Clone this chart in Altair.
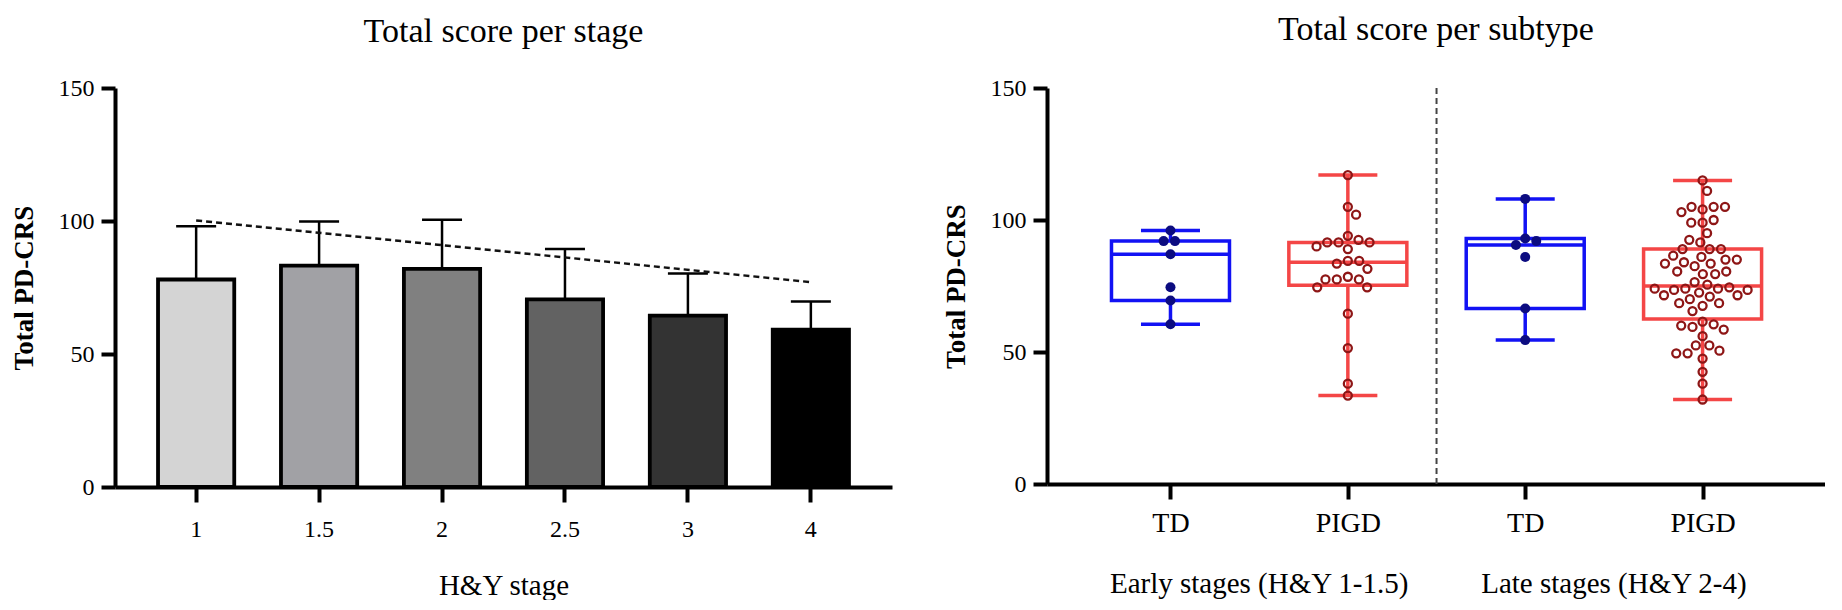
import json
import altair as alt
import pandas as pd
import numpy as np

FONT = "Liberation Serif"

# ---------------- Left panel data ----------------
left_title = "Total score per stage"
stages = ["1", "1.5", "2", "2.5", "3", "4"]
stage_means = [78.0, 83.2, 82.0, 70.5, 64.4, 59.2]
stage_sd = [20.0, 16.6, 18.5, 19.0, 15.9, 10.5]
stage_fill = ["#d4d4d4", "#a1a1a5", "#808080", "#626262", "#333333", "#000000"]
trend_stages = ["1", "4"]
trend_values = [100.2, 77.0]

# ---------------- Right panel data ----------------
right_title = "Total score per subtype"
group_labels = ["TD", "PIGD", "TD", "PIGD"]
group_pos = [1, 2, 3, 4]
stage_groups = ["Early stages (H&Y 1-1.5)", "Late stages (H&Y 2-4)"]
stage_group_pos = [1.5, 3.5]
divider_pos = [2.5]

td_early = [96, 92, 92, 87, 74.5, 69.5, 60.5]
pigd_early = [117, 105, 102, 94, 92.5, 91.5, 91.5, 91.5, 90, 89, 84.5, 84.5,
              83.5, 81.5, 78.5, 77.5, 77.5, 77.5, 74.5, 74.5, 64.5, 51.5, 38, 33.5]
td_late = [108, 93, 92, 90.5, 86, 66.5, 54.5]
pigd_late = [115, 111, 104, 105, 105, 105, 103, 99, 100, 99,
             95, 91.5, 92.5, 89, 89, 89, 86, 83.5, 82.5, 85,
             84, 86.5, 85, 83.5, 79.5, 79.5, 80.5, 80.5, 76.5, 75.5,
             74, 74, 74.5, 72.5, 73.5, 71, 70, 71.5, 71.5, 68.5,
             73.5, 74, 68.5, 67.5, 65.5, 61.5, 60.5, 59.5, 60, 58.5,
             56, 52.5, 52.5, 50.5, 49.5, 49.5, 47.5, 42.5, 38, 32]

series = [("TD", 1, td_early), ("PIGD", 2, pigd_early),
          ("TD", 3, td_late), ("PIGD", 4, pigd_late)]

box_colors = {"TD": "#1212f4", "PIGD": "#f44646"}

# ---------------- layout sizes ----------------
LW, LH = 777, 399
RW, RH = 778, 396
RX_DOMAIN = [0.332, 4.662]
px_x = RW / (RX_DOMAIN[1] - RX_DOMAIN[0])
px_y = RH / 150.0


def beeswarm(values, d):
    placed, offs = [], []
    for v in values:
        y = v * px_y
        cands = [0.0]
        for xj, yj in placed:
            dy = abs(y - yj)
            if dy < d:
                dx = (d * d - dy * dy) ** 0.5
                cands += [xj + dx, xj - dx]
        cands.sort(key=abs)
        chosen = 0.0
        for c in cands:
            if all((c - xj) ** 2 + (y - yj) ** 2 >= d * d - 1e-6 for xj, yj in placed):
                chosen = c
                break
        placed.append((chosen, y))
        offs.append(chosen)
    return offs


pt_rows, box_rows = [], []
for sub, pos, vals in series:
    offs = beeswarm(vals, 11.5)
    for v, o in zip(vals, offs):
        pt_rows.append({"subtype": sub, "pos": pos + o / px_x, "value": v})
    arr = np.array(vals, dtype=float)
    q1, med, q3 = np.percentile(arr, [25, 50, 75], method="weibull")
    box_rows.append({"subtype": sub, "pos": pos, "lo": arr.min(), "q1": q1,
                     "med": med, "q3": q3, "hi": arr.max()})
pts = pd.DataFrame(pt_rows)
boxes = pd.DataFrame(box_rows)

color_scale = alt.Scale(domain=list(box_colors), range=list(box_colors.values()))

# ---------------- Left chart ----------------
bar_df = pd.DataFrame({"stage": stages, "mean": stage_means, "sd": stage_sd})
bar_df["upper"] = bar_df["mean"] + bar_df["sd"]
trend_df = pd.DataFrame({"stage": trend_stages, "value": trend_values})

lx = alt.X("stage:N", sort=stages,
           scale=alt.Scale(paddingInner=0.38, paddingOuter=0.35),
           axis=alt.Axis(title="H&Y stage", labelAngle=0, tickSize=15,
                         labelPadding=15, titlePadding=30, titleFontSize=29,
                         titleFontWeight="normal", labelFontSize=24))
y_axis = alt.Axis(title="Total PD-CRS", values=[0, 50, 100, 150], tickSize=14,
                  labelPadding=7, titlePadding=20, titleFontSize=27,
                  titleFontWeight="bold", labelFontSize=24)
ly_scale = alt.Scale(domain=[0, 150], nice=False)

bars = alt.Chart(bar_df).mark_bar(stroke="black", strokeWidth=3.8).encode(
    x=lx,
    y=alt.Y("mean:Q", scale=ly_scale, axis=y_axis),
    fill=alt.Fill("stage:N", scale=alt.Scale(domain=stages, range=stage_fill), legend=None),
)
err = alt.Chart(bar_df).mark_rule(color="black", strokeWidth=2.5).encode(
    x=alt.X("stage:N", sort=stages), y="mean:Q", y2="upper:Q")
caps = alt.Chart(bar_df).mark_tick(color="black", size=40, thickness=2.5,
                                   orient="horizontal", opacity=1).encode(
    x=alt.X("stage:N", sort=stages), y="upper:Q")
trend = alt.Chart(trend_df).mark_line(color="#111111", strokeWidth=2.4,
                                      strokeDash=[6, 4]).encode(
    x=alt.X("stage:N", sort=stages), y="value:Q")
ltitle = alt.Chart(pd.DataFrame({"t": [left_title]})).mark_text(
    font=FONT, fontSize=34, color="black", baseline="alphabetic", align="center").encode(
    x=alt.value(LW / 2), y=alt.value(-46), text="t:N")

left = alt.layer(bars, err, caps, trend, ltitle).properties(width=LW, height=LH)

# ---------------- Right chart ----------------
label_expr = json.dumps(group_labels) + "[datum.value - 1]"
rxs = alt.Scale(domain=RX_DOMAIN, nice=False, zero=False)
rx = alt.X("pos:Q", scale=rxs,
           axis=alt.Axis(title=None, values=group_pos, labelExpr=label_expr,
                         tickSize=15, labelPadding=10, labelFontSize=28, grid=False))
ry_scale = alt.Scale(domain=[0, 150], nice=False)
stroke_enc = alt.Stroke("subtype:N", scale=color_scale, legend=None)
color_enc = alt.Color("subtype:N", scale=color_scale, legend=None)

div_df = pd.DataFrame({"pos": divider_pos})
divider = alt.Chart(div_df).mark_rule(color="#444444", strokeWidth=2,
                                      strokeDash=[6, 4]).encode(x=rx)

wl = alt.Chart(boxes).mark_rule(strokeWidth=3.5).encode(
    x=rx, y=alt.Y("lo:Q", scale=ry_scale, axis=y_axis), y2="q1:Q", stroke=stroke_enc)
wh = alt.Chart(boxes).mark_rule(strokeWidth=3.5).encode(
    x=rx, y=alt.Y("q3:Q", scale=ry_scale), y2="hi:Q", stroke=stroke_enc)
box = alt.Chart(boxes).mark_bar(size=118, fillOpacity=0, strokeWidth=3.5).encode(
    x=rx, y=alt.Y("q1:Q", scale=ry_scale), y2="q3:Q", stroke=stroke_enc)
med = alt.Chart(boxes).mark_tick(orient="horizontal", size=118, thickness=3.5,
                                 opacity=1).encode(
    x=rx, y=alt.Y("med:Q", scale=ry_scale), color=color_enc)
cap_lo = alt.Chart(boxes).mark_tick(orient="horizontal", size=59, thickness=3.5,
                                    opacity=1).encode(
    x=rx, y=alt.Y("lo:Q", scale=ry_scale), color=color_enc)
cap_hi = alt.Chart(boxes).mark_tick(orient="horizontal", size=59, thickness=3.5,
                                    opacity=1).encode(
    x=rx, y=alt.Y("hi:Q", scale=ry_scale), color=color_enc)

td_pts = alt.Chart(pts[pts.subtype == "TD"]).mark_circle(
    size=100, color="#0c0c80", opacity=1).encode(x=rx, y=alt.Y("value:Q", scale=ry_scale))
pigd_pts = alt.Chart(pts[pts.subtype == "PIGD"]).mark_point(
    shape="circle", filled=False, size=64, strokeWidth=2.3, color="#8e1616",
    opacity=1).encode(x=rx, y=alt.Y("value:Q", scale=ry_scale))

grp_df = pd.DataFrame({"pos": stage_group_pos, "label": stage_groups})
grp_text = alt.Chart(grp_df).mark_text(font=FONT, fontSize=29, color="black",
                                       baseline="alphabetic", align="center").encode(
    x=rx, y=alt.value(RH + 109), text="label:N")
rtitle = alt.Chart(pd.DataFrame({"t": [right_title]})).mark_text(
    font=FONT, fontSize=34, color="black", baseline="alphabetic", align="center").encode(
    x=alt.value(RW / 2), y=alt.value(-48), text="t:N")

right = alt.layer(divider, wl, wh, box, med, cap_lo, cap_hi, td_pts, pigd_pts,
                  grp_text, rtitle).properties(width=RW, height=RH)

chart = alt.hconcat(left, right, spacing=50).properties(
    padding={"left": 2, "top": 5, "right": 0, "bottom": 0},
    background="white",
).configure_view(stroke=None).configure_axis(
    domainColor="black", domainWidth=4, tickColor="black", tickWidth=4,
    grid=False, labelFont=FONT, labelColor="black", titleFont=FONT,
    titleColor="black",
)

chart.save("out.html", embed_options={"renderer": "svg", "actions": False})
